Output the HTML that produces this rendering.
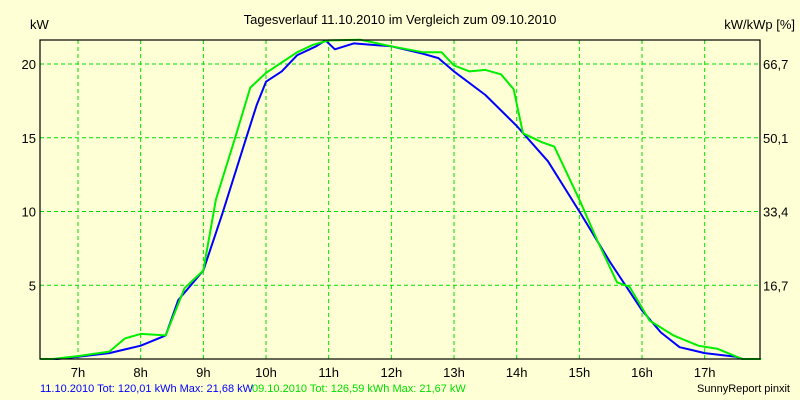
<!DOCTYPE html>
<html><head><meta charset="utf-8"><style>
body{margin:0;background:#FFFFD5;}
svg{display:block;font-family:"Liberation Sans",sans-serif;}
</style></head><body>
<svg id="chart" width="800" height="400">
<rect width="800" height="400" fill="#FFFFD5"/>
<text x="400" y="24" font-size="13" text-anchor="middle">Tagesverlauf 11.10.2010 im Vergleich zum 09.10.2010</text>
<text x="30" y="29" font-size="13">kW</text>
<text x="795" y="29" font-size="13" text-anchor="end">kW/kWp [%]</text>
<g id="grid"></g>
<g id="series"></g>
<rect x="40" y="40" width="720" height="319" fill="none" stroke="#000" stroke-width="1.2"/>
<text x="40" y="392" font-size="11" fill="#0000ff">11.10.2010 Tot: 120,01 kWh Max: 21,68 kW</text>
<text x="252" y="392" font-size="11" fill="#00dd00">09.10.2010 Tot: 126,59 kWh Max: 21,67 kW</text>
<text x="790" y="392" font-size="11" text-anchor="end">SunnyReport pinxit</text>
</svg>
<script>
const hourTicks=[7,8,9,10,11,12,13,14,15,16,17];
const kwTicks=[5,10,15,20];
const pctLabels=["16,7","33,4","50,1","66,7"];
const blueT=[6.4,6.67,7.0,7.5,8.0,8.4,8.6,9.0,9.3,9.7,9.85,10.0,10.25,10.5,10.8,10.95,11.1,11.4,12.0,12.5,12.75,13.0,13.5,14.0,14.5,15.0,15.5,16.0,16.3,16.6,16.8,17.0,17.5,17.6,17.9];
const blueKW=[0,0,0.15,0.4,0.9,1.6,4,6,9.8,15.2,17.2,18.8,19.5,20.6,21.2,21.6,21.0,21.4,21.2,20.7,20.4,19.5,17.9,15.8,13.4,10.0,6.5,3.3,1.8,0.8,0.6,0.4,0.15,0,0];
const greenT=[6.4,6.6,6.8,7.0,7.5,7.75,8.0,8.4,8.7,9.0,9.2,9.5,9.75,10.0,10.25,10.5,10.75,11.0,11.5,12.0,12.5,12.8,13.0,13.25,13.5,13.75,13.95,14.1,14.4,14.6,15.0,15.3,15.6,15.8,16.12,16.5,16.9,17.2,17.6,17.9];
const greenKW=[0,0,0.1,0.2,0.5,1.4,1.7,1.6,4.8,6,10.8,14.9,18.4,19.4,20.1,20.8,21.3,21.6,21.65,21.2,20.8,20.8,19.9,19.5,19.6,19.3,18.3,15.3,14.7,14.4,10.8,7.9,5.2,4.9,2.6,1.6,0.9,0.7,0,0];
const NS="http://www.w3.org/2000/svg";
const xS=h=>78+(h-7)*62.67;
const yS=v=>359-v*14.75;
function mk(tag,attrs,parent){const e=document.createElementNS(NS,tag);for(const k in attrs)e.setAttribute(k,attrs[k]);parent.appendChild(e);return e;}
const grid=document.getElementById('grid');
hourTicks.forEach(h=>{
  const l=mk('line',{x1:xS(h),x2:xS(h),y1:40,y2:359,stroke:'#00dd00','stroke-dasharray':'4,3'},grid);
  
  
  const t=mk('text',{x:xS(h),y:377,'font-size':13,'text-anchor':'middle'},grid);
  
  
  t.textContent=h+'h';
});
kwTicks.forEach((v,i)=>{
  const l=mk('line',{x1:40,x2:760,y1:yS(v),y2:yS(v),stroke:'#00dd00','stroke-dasharray':'4,3'},grid);
  
  
  const t=mk('text',{x:36,y:yS(v)+5,'font-size':13,'text-anchor':'end'},grid);
  
  
  t.textContent=v;
  const r=mk('text',{x:763,y:yS(v)+5,'font-size':13},grid);
  
  
  r.textContent=pctLabels[i];
});
const ser=document.getElementById('series');
function line(ts,vs,color,name){
  const p=mk('polyline',{points:ts.map((t,i)=>xS(t).toFixed(1)+','+yS(vs[i]).toFixed(1)).join(' '),fill:'none',stroke:color,'stroke-width':2,'stroke-linejoin':'round'},ser);
  
  
}
line(blueT,blueKW,'#0000ff','series-11-10-2010');
line(greenT,greenKW,'#00ee00','series-09-10-2010');
</script>
</body></html>
